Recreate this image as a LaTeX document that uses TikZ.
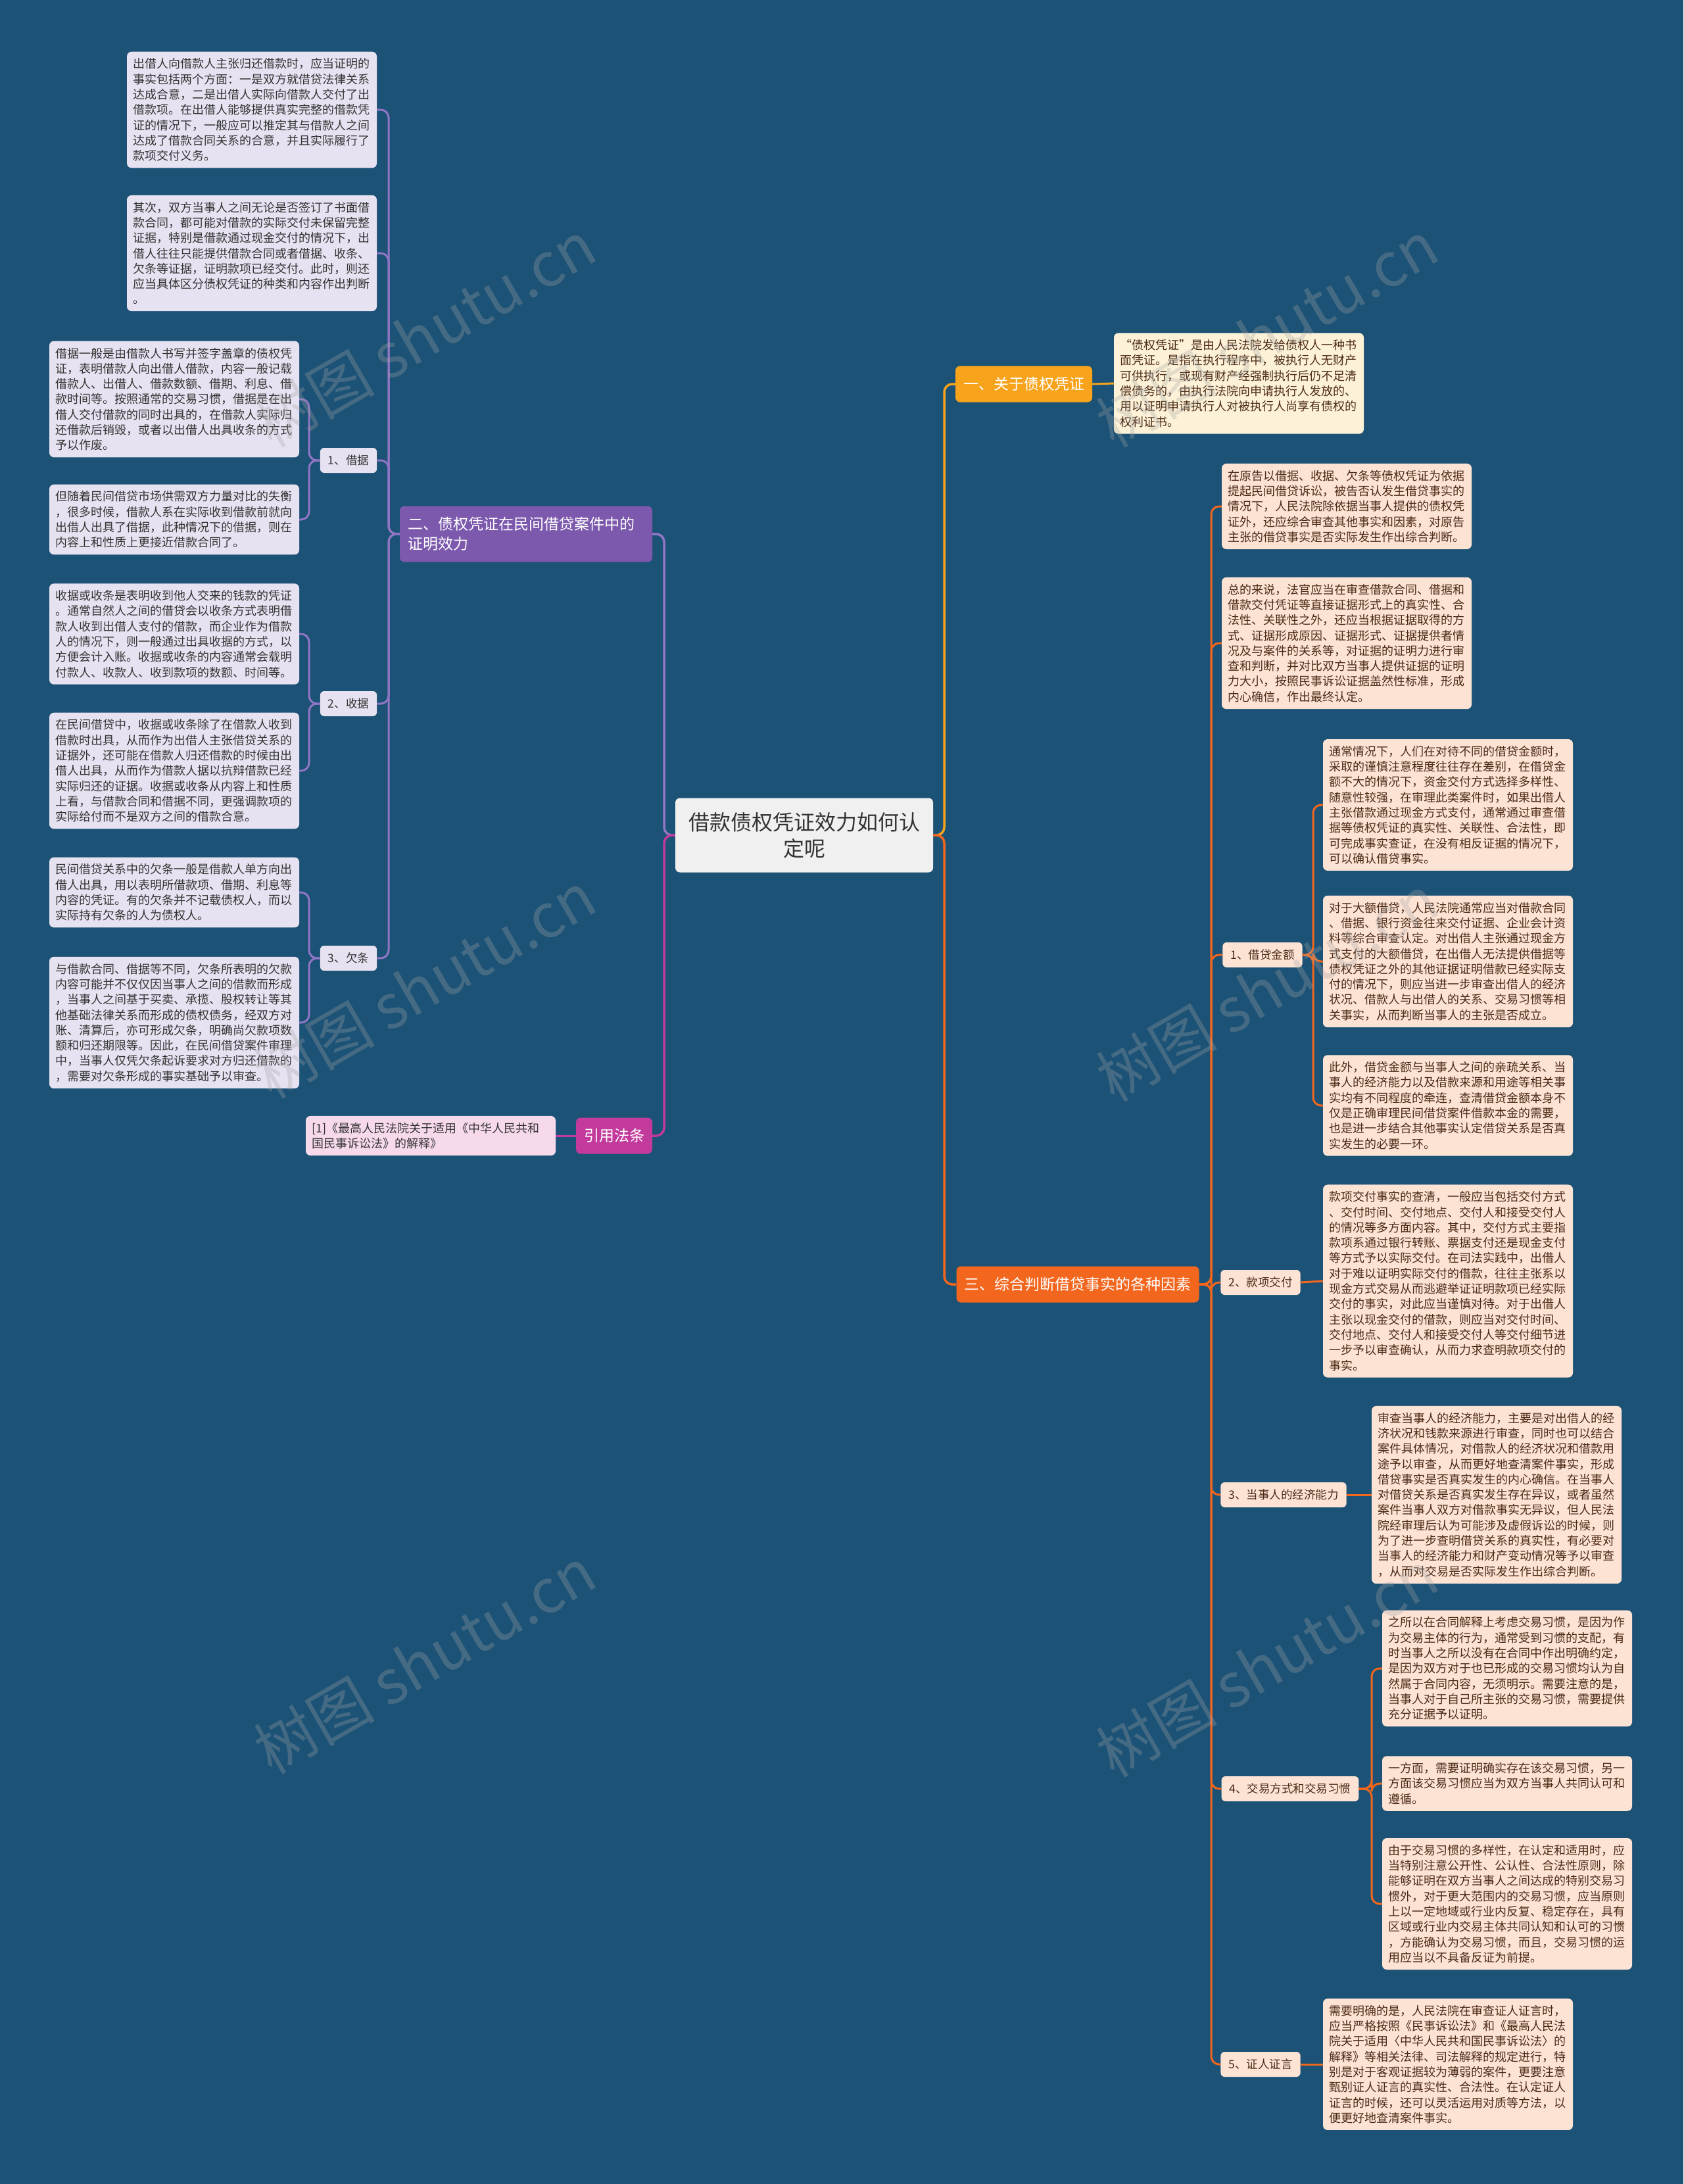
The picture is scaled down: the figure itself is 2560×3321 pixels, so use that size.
\documentclass[tikz,border=0pt]{standalone}
\usepackage{fontspec}
\newfontfamily\cjk{Noto Sans CJK SC}
\usepackage{tikz}
\usetikzlibrary{positioning}

\definecolor{bgblue}{HTML}{1C5276}
\definecolor{gold}{HTML}{F7A31C}
\definecolor{tangerine}{HTML}{F2661E}
\definecolor{lilac}{HTML}{7C59AD}
\definecolor{lilacline}{HTML}{9276C6}
\definecolor{berry}{HTML}{C23A9B}
\definecolor{creamfill}{HTML}{FDF2D8}
\definecolor{peachfill}{HTML}{FDE3D4}
\definecolor{lavfill}{HTML}{E7E2F1}
\definecolor{pinkfill}{HTML}{F7D9EC}
\definecolor{browntext}{HTML}{4B2A16}
\definecolor{greytext}{HTML}{333333}

\begin{document}
\begin{tikzpicture}[x=1pt,y=-1pt,
    leaf/.style={rounded corners=7pt, inner xsep=9pt, inner ysep=10pt,
      text width=362pt, align=left, font=\cjk\fontsize{18}{23.3}\selectfont},
    lavleaf/.style={leaf, fill=lavfill, text=greytext},
    peachleaf/.style={leaf, fill=peachfill, text=browntext},
    sub/.style={rounded corners=6pt, inner xsep=12pt, inner ysep=4pt,
      minimum height=38pt, font=\cjk\fontsize{17.5}{20}\selectfont},
    lavsub/.style={sub, fill=lavfill, text=greytext},
    peachsub/.style={sub, fill=peachfill, text=browntext},
    branch/.style={rounded corners=7pt, inner xsep=12pt, inner ysep=6pt,
      minimum height=55pt, text=white, font=\cjk\fontsize{23}{28}\selectfont},
    link/.style={line width=3pt, rounded corners=12pt},
    watermark/.style={rotate=30, text=gray!70, opacity=0.3,
      font=\cjk\fontsize{92}{96}\selectfont}
  ]
  \useasboundingbox (0,0) rectangle (2560,3321);
  \fill[bgblue] (0,0) rectangle (2560,3321);

  % centre
  \node[rounded corners=7pt, fill=gray!12, text=greytext, align=center,
    inner xsep=20pt, inner ysep=12pt, minimum height=113pt,
    font=\cjk\fontsize{32}{40}\selectfont] (c) at (1223,1270)
    {借款债权凭证效力如何认\\定呢};

  % right side
  \node[branch, fill=gold] (b1) at (1557,584) {一、关于债权凭证};
  \node[leaf, fill=creamfill, text=browntext] (b1l) at (1884,583)
    {“债权凭证”是由人民法院发给债权人一种书\\
     面凭证。是指在执行程序中，被执行人无财产\\
     可供执行，或现有财产经强制执行后仍不足清\\
     偿债务的，由执行法院向申请执行人发放的、\\
     用以证明申请执行人对被执行人尚享有债权的\\
     权利证书。};

  \node[branch, fill=tangerine] (b3) at (1639,1953) {三、综合判断借贷事实的各种因素};
  \node[peachleaf] (b3a) at (2048,770)
    {在原告以借据、收据、欠条等债权凭证为依据\\
     提起民间借贷诉讼，被告否认发生借贷事实的\\
     情况下，人民法院除依据当事人提供的债权凭\\
     证外，还应综合审查其他事实和因素，对原告\\
     主张的借贷事实是否实际发生作出综合判断。};
  \node[peachleaf] (b3b) at (2048,978)
    {总的来说，法官应当在审查借款合同、借据和\\
     借款交付凭证等直接证据形式上的真实性、合\\
     法性、关联性之外，还应当根据证据取得的方\\
     式、证据形成原因、证据形式、证据提供者情\\
     况及与案件的关系等，对证据的证明力进行审\\
     查和判断，并对比双方当事人提供证据的证明\\
     力大小，按照民事诉讼证据盖然性标准，形成\\
     内心确信，作出最终认定。};

  \node[peachsub] (s1) at (1920,1452) {1、借贷金额};
  \node[peachleaf] (s1a) at (2202,1224)
    {通常情况下，人们在对待不同的借贷金额时，\\
     采取的谨慎注意程度往往存在差别，在借贷金\\
     额不大的情况下，资金交付方式选择多样性、\\
     随意性较强，在审理此类案件时，如果出借人\\
     主张借款通过现金方式支付，通常通过审查借\\
     据等债权凭证的真实性、关联性、合法性，即\\
     可完成事实查证，在没有相反证据的情况下，\\
     可以确认借贷事实。};
  \node[peachleaf] (s1b) at (2202,1462)
    {对于大额借贷，人民法院通常应当对借款合同\\
     、借据、银行资金往来交付证据、企业会计资\\
     料等综合审查认定。对出借人主张通过现金方\\
     式支付的大额借贷，在出借人无法提供借据等\\
     债权凭证之外的其他证据证明借款已经实际支\\
     付的情况下，则应当进一步审查出借人的经济\\
     状况、借款人与出借人的关系、交易习惯等相\\
     关事实，从而判断当事人的主张是否成立。};
  \node[peachleaf] (s1c) at (2202,1681)
    {此外，借贷金额与当事人之间的亲疏关系、当\\
     事人的经济能力以及借款来源和用途等相关事\\
     实均有不同程度的牵连，查清借贷金额本身不\\
     仅是正确审理民间借贷案件借款本金的需要，\\
     也是进一步结合其他事实认定借贷关系是否真\\
     实发生的必要一环。};

  \node[peachsub] (s2) at (1917,1950) {2、款项交付};
  \node[peachleaf] (s2a) at (2202,1948)
    {款项交付事实的查清，一般应当包括交付方式\\
     、交付时间、交付地点、交付人和接受交付人\\
     的情况等多方面内容。其中，交付方式主要指\\
     款项系通过银行转账、票据支付还是现金支付\\
     等方式予以实际交付。在司法实践中，出借人\\
     对于难以证明实际交付的借款，往往主张系以\\
     现金方式交易从而逃避举证证明款项已经实际\\
     交付的事实，对此应当谨慎对待。对于出借人\\
     主张以现金交付的借款，则应当对交付时间、\\
     交付地点、交付人和接受交付人等交付细节进\\
     一步予以审查确认，从而力求查明款项交付的\\
     事实。};

  \node[peachsub] (s3) at (1952,2273) {3、当事人的经济能力};
  \node[peachleaf] (s3a) at (2276,2273)
    {审查当事人的经济能力，主要是对出借人的经\\
     济状况和钱款来源进行审查，同时也可以结合\\
     案件具体情况，对借款人的经济状况和借款用\\
     途予以审查，从而更好地查清案件事实，形成\\
     借贷事实是否真实发生的内心确信。在当事人\\
     对借贷关系是否真实发生存在异议，或者虽然\\
     案件当事人双方对借款事实无异议，但人民法\\
     院经审理后认为可能涉及虚假诉讼的时候，则\\
     为了进一步查明借贷关系的真实性，有必要对\\
     当事人的经济能力和财产变动情况等予以审查\\
     ，从而对交易是否实际发生作出综合判断。};

  \node[peachsub] (s4) at (1962,2720) {4、交易方式和交易习惯};
  \node[peachleaf] (s4a) at (2292,2537)
    {之所以在合同解释上考虑交易习惯，是因为作\\
     为交易主体的行为，通常受到习惯的支配，有\\
     时当事人之所以没有在合同中作出明确约定，\\
     是因为双方对于也已形成的交易习惯均认为自\\
     然属于合同内容，无须明示。需要注意的是，\\
     当事人对于自己所主张的交易习惯，需要提供\\
     充分证据予以证明。};
  \node[peachleaf] (s4b) at (2292,2712)
    {一方面，需要证明确实存在该交易习惯，另一\\
     方面该交易习惯应当为双方当事人共同认可和\\
     遵循。};
  \node[peachleaf] (s4c) at (2292,2895)
    {由于交易习惯的多样性，在认定和适用时，应\\
     当特别注意公开性、公认性、合法性原则，除\\
     能够证明在双方当事人之间达成的特别交易习\\
     惯外，对于更大范围内的交易习惯，应当原则\\
     上以一定地域或行业内反复、稳定存在，具有\\
     区域或行业内交易主体共同认知和认可的习惯\\
     ，方能确认为交易习惯，而且，交易习惯的运\\
     用应当以不具备反证为前提。};

  \node[peachsub] (s5) at (1917,3139) {5、证人证言};
  \node[peachleaf] (s5a) at (2202,3139)
    {需要明确的是，人民法院在审查证人证言时，\\
     应当严格按照《民事诉讼法》和《最高人民法\\
     院关于适用〈中华人民共和国民事诉讼法〉的\\
     解释》等相关法律、司法解释的规定进行，特\\
     别是对于客观证据较为薄弱的案件，更要注意\\
     甄别证人证言的真实性、合法性。在认定证人\\
     证言的时候，还可以灵活运用对质等方法，以\\
     便更好地查清案件事实。};

  % left side
  \node[branch, fill=lilac, align=left, text width=360pt, minimum height=85pt,
    font=\cjk\fontsize{23}{30}\selectfont] (b2) at (800,812)
    {二、债权凭证在民间借贷案件中的\\证明效力};
  \node[lavleaf] (b2a) at (383,167)
    {出借人向借款人主张归还借款时，应当证明的\\
     事实包括两个方面：一是双方就借贷法律关系\\
     达成合意，二是出借人实际向借款人交付了出\\
     借款项。在出借人能够提供真实完整的借款凭\\
     证的情况下，一般应可以推定其与借款人之间\\
     达成了借款合同关系的合意，并且实际履行了\\
     款项交付义务。};
  \node[lavleaf] (b2b) at (383,385)
    {其次，双方当事人之间无论是否签订了书面借\\
     款合同，都可能对借款的实际交付未保留完整\\
     证据，特别是借款通过现金交付的情况下，出\\
     借人往往只能提供借款合同或者借据、收条、\\
     欠条等证据，证明款项已经交付。此时，则还\\
     应当具体区分债权凭证的种类和内容作出判断\\
     。};

  \node[lavsub] (t1) at (530,700) {1、借据};
  \node[lavleaf] (t1a) at (265,607)
    {借据一般是由借款人书写并签字盖章的债权凭\\
     证，表明借款人向出借人借款，内容一般记载\\
     借款人、出借人、借款数额、借期、利息、借\\
     款时间等。按照通常的交易习惯，借据是在出\\
     借人交付借款的同时出具的，在借款人实际归\\
     还借款后销毁，或者以出借人出具收条的方式\\
     予以作废。};
  \node[lavleaf] (t1b) at (265,790)
    {但随着民间借贷市场供需双方力量对比的失衡\\
     ，很多时候，借款人系在实际收到借款前就向\\
     出借人出具了借据，此种情况下的借据，则在\\
     内容上和性质上更接近借款合同了。};

  \node[lavsub] (t2) at (530,1070) {2、收据};
  \node[lavleaf] (t2a) at (265,964)
    {收据或收条是表明收到他人交来的钱款的凭证\\
     。通常自然人之间的借贷会以收条方式表明借\\
     款人收到出借人支付的借款，而企业作为借款\\
     人的情况下，则一般通过出具收据的方式，以\\
     方便会计入账。收据或收条的内容通常会载明\\
     付款人、收款人、收到款项的数额、时间等。};
  \node[lavleaf] (t2b) at (265,1172)
    {在民间借贷中，收据或收条除了在借款人收到\\
     借款时出具，从而作为出借人主张借贷关系的\\
     证据外，还可能在借款人归还借款的时候由出\\
     借人出具，从而作为借款人据以抗辩借款已经\\
     实际归还的证据。收据或收条从内容上和性质\\
     上看，与借款合同和借据不同，更强调款项的\\
     实际给付而不是双方之间的借款合意。};

  \node[lavsub] (t3) at (530,1457) {3、欠条};
  \node[lavleaf] (t3a) at (265,1357)
    {民间借贷关系中的欠条一般是借款人单方向出\\
     借人出具，用以表明所借款项、借期、利息等\\
     内容的凭证。有的欠条并不记载债权人，而以\\
     实际持有欠条的人为债权人。};
  \node[lavleaf] (t3b) at (265,1555)
    {与借款合同、借据等不同，欠条所表明的欠款\\
     内容可能并不仅仅因当事人之间的借款而形成\\
     ，当事人之间基于买卖、承揽、股权转让等其\\
     他基础法律关系而形成的债权债务，经双方对\\
     账、清算后，亦可形成欠条，明确尚欠款项数\\
     额和归还期限等。因此，在民间借贷案件审理\\
     中，当事人仅凭欠条起诉要求对方归还借款的\\
     ，需要对欠条形成的事实基础予以审查。};

  \node[branch, fill=berry] (b4) at (934,1727) {引用法条};
  \node[leaf, fill=pinkfill, text=greytext] (b4a) at (655,1727)
    {[1]《最高人民法院关于适用《中华人民共和\\
     国民事诉讼法》的解释》};

  % junctions
  \coordinate (jr) at (1436,1270);
  \coordinate (jl) at (1010,1270);
  \coordinate (j3) at (1842,1953);
  \coordinate (js1) at (1997,1452);
  \coordinate (js4) at (2086,2720);
  \coordinate (j2) at (591,812);
  \coordinate (jt1) at (470,700);
  \coordinate (jt2) at (470,1070);
  \coordinate (jt3) at (470,1457);

  % connectors
  \draw[link, line width=3.5pt, gold] (c.east) -- (jr) |- (b1.west);
  \draw[link, line width=3.5pt, tangerine] (c.east) -- (jr) |- (b3.west);
  \draw[link, line width=3.5pt, lilacline] (c.west) -- (jl) |- (b2.east);
  \draw[link, line width=3.5pt, berry] (c.west) -- (jl) |- (b4.east);
  \draw[link, gold] (b1.east) -- (b1l.west);
  \foreach \k in {b3a,b3b,s1,s2,s3,s4,s5}
    \draw[link, tangerine] (b3.east) -- (j3) |- (\k.west);
  \foreach \k in {s1a,s1b,s1c}
    \draw[link, tangerine] (s1.east) -- (js1) |- (\k.west);
  \draw[link, tangerine] (s2.east) -- (s2a.west);
  \draw[link, tangerine] (s3.east) -- (s3a.west);
  \foreach \k in {s4a,s4b,s4c}
    \draw[link, tangerine] (s4.east) -- (js4) |- (\k.west);
  \draw[link, tangerine] (s5.east) -- (s5a.west);
  \foreach \k in {b2a,b2b,t1,t2,t3}
    \draw[link, lilacline] (b2.west) -- (j2) |- (\k.east);
  \foreach \k in {t1a,t1b}
    \draw[link, lilacline] (t1.west) -- (jt1) |- (\k.east);
  \foreach \k in {t2a,t2b}
    \draw[link, lilacline] (t2.west) -- (jt2) |- (\k.east);
  \foreach \k in {t3a,t3b}
    \draw[link, lilacline] (t3.west) -- (jt3) |- (\k.east);
  \draw[link, berry] (b4.west) -- (b4a.east);

  % watermark on top
  \foreach \wx/\wy in {646/508, 646/1498, 646/2525, 1927/508, 1927/1503, 1927/2530}
    \node[watermark] at (\wx,\wy) {树图 shutu.cn};
\end{tikzpicture}
\end{document}
